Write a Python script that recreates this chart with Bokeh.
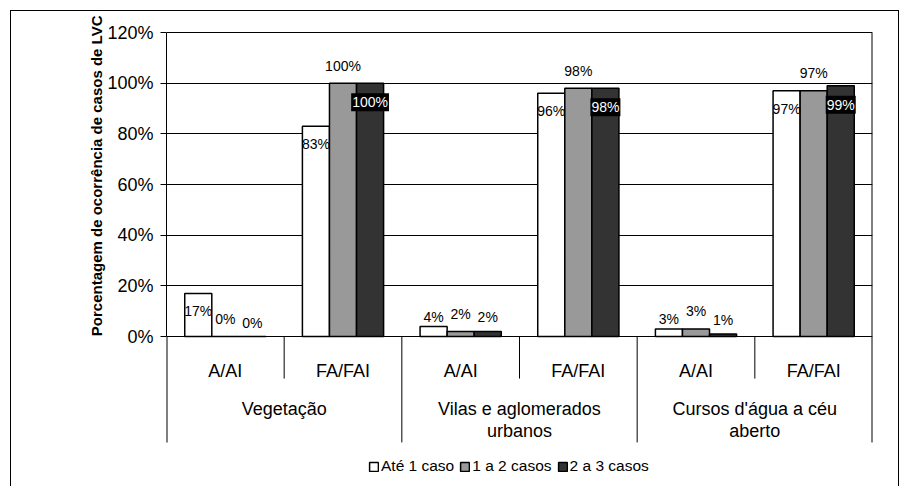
from bokeh.plotting import figure
from bokeh.models import (FactorRange, Range1d, CategoricalAxis, FixedTicker,
                          PrintfTickFormatter, ColumnDataSource, Legend, LegendItem, Title)
from bokeh.transform import dodge
from bokeh.core.properties import value
from bokeh.embed import file_html
from bokeh.resources import INLINE

# ---------------- data ----------------
groups = ["Vegetação", "Vilas e aglomerados urbanos", "Cursos d'água a céu aberto"]
group_line1 = ["Vegetação", "Vilas e aglomerados", "Cursos d'água a céu"]
group_line2 = [" ", "urbanos", "aberto"]
classes = ["A/AI", "FA/FAI"]
series_names = ["Até 1 caso", "1 a 2 casos", "2 a 3 casos"]
ate_1_caso = [17, 83, 4, 96, 3, 97]
de_1_a_2_casos = [0, 100, 2, 98, 3, 97]
de_2_a_3_casos = [0, 100, 2, 98, 1, 99]
y_ticks = [0, 20, 40, 60, 80, 100, 120]

FONT = "Liberation Sans"
colors = ["#ffffff", "#999999", "#333333"]
series_values = [ate_1_caso, de_1_a_2_casos, de_2_a_3_casos]
offsets = [-0.23, 0.0, 0.23]
BAR_W = 0.23

factors = [(g, c) for g in groups for c in classes]
x_range = FactorRange(*factors, range_padding=0, group_padding=0,
                      factor_padding=0, subgroup_padding=0)

p = figure(width=900, height=486, x_range=x_range, y_range=Range1d(-59.2, 120.4),
           output_backend="svg", toolbar_location=None, x_axis_location=None,
           min_border_left=166, min_border_right=28, min_border_top=31,
           min_border_bottom=0, outline_line_color=None, background_fill_color="white",
           border_fill_color=None)

# outer chart border (left, top, right) drawn behind the transparent canvas
p.styles = {
    "background": ("linear-gradient(#000,#000) 10px 10px / 1px 100% no-repeat, "
                   "linear-gradient(#000,#000) 10px 10px / 889px 1px no-repeat, "
                   "linear-gradient(#000,#000) 898px 10px / 1px 100% no-repeat, #ffffff")
}

# grid
p.xgrid.visible = False
p.ygrid.ticker = FixedTicker(ticks=y_ticks[1:])
p.ygrid.grid_line_color = "black"
p.ygrid.grid_line_width = 1

# y axis
ya = p.yaxis[0]
ya.ticker = FixedTicker(ticks=y_ticks)
ya.formatter = PrintfTickFormatter(format="%d%%")
ya.bounds = (0, 120)
ya.major_tick_out = 6
ya.major_tick_in = 0
ya.minor_tick_line_color = None
ya.axis_line_color = "black"
ya.major_tick_line_color = "black"
ya.major_label_text_font = FONT
ya.major_label_text_font_size = "18px"
ya.major_label_text_color = "black"
ya.major_label_standoff = 7

p.add_layout(Title(text="Porcentagem de ocorrência de casos de LVC", align="right",
                   offset=-16, text_font=FONT, text_font_size="15px",
                   text_font_style="bold", text_color="black", standoff=0), "left")

# bars
src = ColumnDataSource(dict(x=factors, s0=ate_1_caso, s1=de_1_a_2_casos, s2=de_2_a_3_casos))
bar_renderers = []
for i, col in enumerate(["s0", "s1", "s2"]):
    r = p.vbar(x=dodge("x", offsets[i], range=p.x_range), top=col, width=BAR_W,
               source=src, fill_color=colors[i], line_color="black", line_width=1.5)
    bar_renderers.append(r)

# data labels
for i, vals in enumerate(series_values):
    out_x, out_y, out_t, out_off = [], [], [], []
    in_x, in_y, in_t, in_off = [], [], [], []
    for f, v in zip(factors, vals):
        txt = f"{v}%"
        if i == 0:
            out_x.append(f); out_y.append(v); out_t.append(txt)
            out_off.append(18 if v >= 10 else -9.5)
        elif i == 1:
            out_x.append(f); out_y.append(v); out_t.append(txt); out_off.append(-17.5)
        else:
            if v >= 10:
                in_x.append(f); in_y.append(v); in_t.append(txt); in_off.append(19)
            else:
                out_x.append(f); out_y.append(v); out_t.append(txt); out_off.append(-14)
    s_out = ColumnDataSource(dict(x=out_x, y=out_y, t=out_t, off=out_off))
    p.text(x=dodge("x", offsets[i], range=p.x_range), y="y", text="t", y_offset="off",
           source=s_out, text_align="center", text_baseline="middle",
           text_font=value(FONT), text_font_size="14px", text_color="black")
    if in_x:
        s_in = ColumnDataSource(dict(x=in_x, y=in_y, t=in_t, off=in_off))
        p.text(x=dodge("x", offsets[i], range=p.x_range), y="y", text="t", y_offset="off",
               source=s_in, text_align="center", text_baseline="middle",
               text_font=value(FONT), text_font_size="14px", text_color="white",
               background_fill_color="black", padding=1)

# category box lines below the axis
inner_x = [(g, "A/AI", 0.5) for g in groups]
p.segment(x0=inner_x, y0=[0] * len(inner_x), x1=inner_x, y1=[-16.6] * len(inner_x),
          line_color="black", line_width=1)
mid_x = [(g, "FA/FAI", 0.5) for g in groups[:-1]]
p.segment(x0=mid_x, y0=[0] * len(mid_x), x1=mid_x, y1=[-41.8] * len(mid_x),
          line_color="black", line_width=1)
left_x = [(groups[0], "A/AI", -0.5)]
p.segment(x0=left_x, y0=[0], x1=left_x, y1=[-41.8], line_color="black", line_width=2)
right_x = [(groups[-1], "FA/FAI", 0.5)]
p.segment(x0=right_x, y0=[120], x1=right_x, y1=[-41.8], line_color="black", line_width=2)

# category axes: class level, then the two lines of the group level
ax1 = CategoricalAxis(fixed_location=0, major_label_standoff=24, major_tick_in=0,
                      major_tick_out=0, major_tick_line_color=None,
                      axis_line_color="black", axis_line_width=1,
                      group_text_color=None, separator_line_color=None,
                      major_label_text_font=FONT, major_label_text_font_size="18px",
                      major_label_text_color="black")
p.add_layout(ax1, "below")

p.extra_x_ranges = {"g1": FactorRange(*group_line1, range_padding=0),
                    "g2": FactorRange(*group_line2, range_padding=0)}
for name, standoff in (("g1", 62), ("g2", 84)):
    ax = CategoricalAxis(x_range_name=name, fixed_location=0, major_label_standoff=standoff,
                         major_tick_in=0, major_tick_out=0, major_tick_line_color=None,
                         axis_line_color=None, separator_line_color=None,
                         major_label_text_font=FONT, major_label_text_font_size="18px",
                         major_label_text_color="black")
    p.add_layout(ax, "below")

# legend
legend = Legend(items=[LegendItem(label=s, renderers=[r]) for s, r in zip(series_names, bar_renderers)],
                location=(202, 11), orientation="horizontal", glyph_width=11, glyph_height=11,
                label_standoff=2, spacing=5, padding=0, margin=0, border_line_color=None,
                background_fill_alpha=0, label_text_font=FONT, label_text_font_size="15.5px",
                label_text_color="black")
p.add_layout(legend)

open("out.html", "w").write(file_html(p, INLINE))
